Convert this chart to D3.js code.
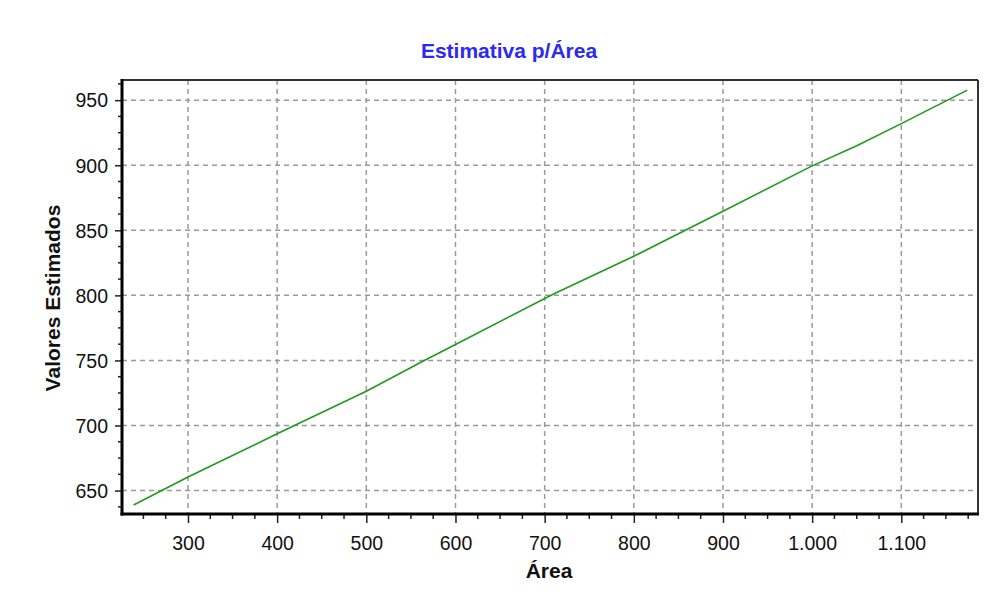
<!DOCTYPE html>
<html>
<head>
<meta charset="utf-8">
<script src="https://cdn.jsdelivr.net/npm/d3@7"></script>
<style>
  html, body { margin: 0; padding: 0; background: #fff; }
  svg { display: block; }
  text { font-family: "Liberation Sans", Arial, sans-serif; }
</style>
</head>
<body>
<svg id="chart" width="995" height="603"></svg>
<script>
// ---- data ----
const title = "Estimativa p/Área";
const xLabel = "Área";
const yLabel = "Valores Estimados";
const areaValues = [239, 300, 400, 450, 500, 565, 600, 710, 800, 900, 1000, 1050, 1100, 1174];
const estimatedValues = [638.9, 660.4, 693.6, 710, 726.3, 750, 762.3, 801, 830, 864.6, 899.5, 915, 932, 957.7];
const xTicks = [300, 400, 500, 600, 700, 800, 900, 1000, 1100];
const yTicks = [650, 700, 750, 800, 850, 900, 950];
const xDomain = [226, 1186];
const yDomain = [632, 965.5];

// ---- layout ----
const svg = d3.select("#chart");
const m = { left: 122, top: 80, right: 978, bottom: 514 };
const x = d3.scaleLinear().domain(xDomain).range([m.left, m.right]);
const y = d3.scaleLinear().domain(yDomain).range([m.bottom, m.top]);
const loc = d3.formatLocale({ decimal: ",", thousands: ".", grouping: [3], currency: ["", ""] });
const fmt = loc.format(",d");

// gridlines
const grid = svg.append("g");
grid.selectAll("line.gx").data(xTicks).join("line")
  .attr("x1", d => x(d)).attr("x2", d => x(d))
  .attr("y1", m.top).attr("y2", m.bottom)
  .attr("stroke", "#9a9a9a").attr("stroke-width", 1.5).attr("stroke-dasharray", "5,4");
grid.selectAll("line.gy").data(yTicks).join("line")
  .attr("y1", d => y(d)).attr("y2", d => y(d))
  .attr("x1", m.left).attr("x2", m.right)
  .attr("stroke", "#9a9a9a").attr("stroke-width", 1.5).attr("stroke-dasharray", "5,4");

// frame top/right
svg.append("line").attr("x1", m.left).attr("x2", m.right).attr("y1", m.top).attr("y2", m.top)
  .attr("stroke", "#333").attr("stroke-width", 2);
svg.append("line").attr("x1", m.right).attr("x2", m.right).attr("y1", m.top).attr("y2", m.bottom)
  .attr("stroke", "#333").attr("stroke-width", 2);

// line
const line = d3.line().x((d, i) => x(areaValues[i])).y(d => y(d));
svg.append("path").datum(estimatedValues)
  .attr("d", line).attr("fill", "none")
  .attr("stroke", "#1e9a1e").attr("stroke-width", 1.6);

// minor ticks
const xMinor = d3.range(250, 1186, 25).filter(v => !xTicks.includes(v));
const yMinor = d3.range(637.5, 965, 12.5).filter(v => !yTicks.includes(v));

// x axis
const xAxis = svg.append("g").attr("transform", `translate(0,${m.bottom})`)
  .call(d3.axisBottom(x).tickValues(xTicks).tickFormat(fmt).tickSize(9).tickSizeOuter(0));
xAxis.select(".domain").remove();
xAxis.selectAll(".tick line").attr("stroke", "#222").attr("stroke-width", 1.5);
xAxis.selectAll(".tick text").attr("font-size", 19.5).attr("fill", "#111").attr("dy", "0").attr("y", 36)
  .attr("font-family", "'Liberation Sans', Arial, sans-serif");
xAxis.selectAll("line.minor").data(xMinor).join("line").attr("class", "minor")
  .attr("x1", d => x(d)).attr("x2", d => x(d)).attr("y1", 0).attr("y2", 5)
  .attr("stroke", "#222").attr("stroke-width", 1.5);

// y axis
const yAxis = svg.append("g").attr("transform", `translate(${m.left},0)`)
  .call(d3.axisLeft(y).tickValues(yTicks).tickFormat(d3.format("d")).tickSize(7).tickSizeOuter(0));
yAxis.select(".domain").remove();
yAxis.selectAll(".tick line").attr("stroke", "#222").attr("stroke-width", 1.5);
yAxis.selectAll(".tick text").attr("font-size", 19.5).attr("fill", "#111").attr("x", -14).attr("dy", "0.35em")
  .attr("font-family", "'Liberation Sans', Arial, sans-serif");
yAxis.selectAll("line.minor").data(yMinor).join("line").attr("class", "minor")
  .attr("y1", d => y(d)).attr("y2", d => y(d)).attr("x1", 0).attr("x2", -4)
  .attr("stroke", "#222").attr("stroke-width", 1.5);

// thick axis lines
svg.append("line").attr("x1", m.left).attr("x2", m.left).attr("y1", m.top - 1).attr("y2", m.bottom + 1.5)
  .attr("stroke", "#000").attr("stroke-width", 3);
svg.append("line").attr("x1", m.left - 1.5).attr("x2", m.right + 1).attr("y1", m.bottom).attr("y2", m.bottom)
  .attr("stroke", "#000").attr("stroke-width", 3);

// title and labels
svg.append("text").attr("x", 509).attr("y", 58).attr("text-anchor", "middle")
  .attr("font-size", 21).attr("font-weight", "bold").attr("fill", "#2a2af0").text(title);
svg.append("text").attr("x", 549).attr("y", 578).attr("text-anchor", "middle")
  .attr("font-size", 21).attr("font-weight", "bold").attr("fill", "#111").text(xLabel);
svg.append("text").attr("transform", "translate(60,298) rotate(-90)").attr("text-anchor", "middle")
  .attr("font-size", 21).attr("font-weight", "bold").attr("fill", "#111").text(yLabel);
</script>
</body>
</html>
